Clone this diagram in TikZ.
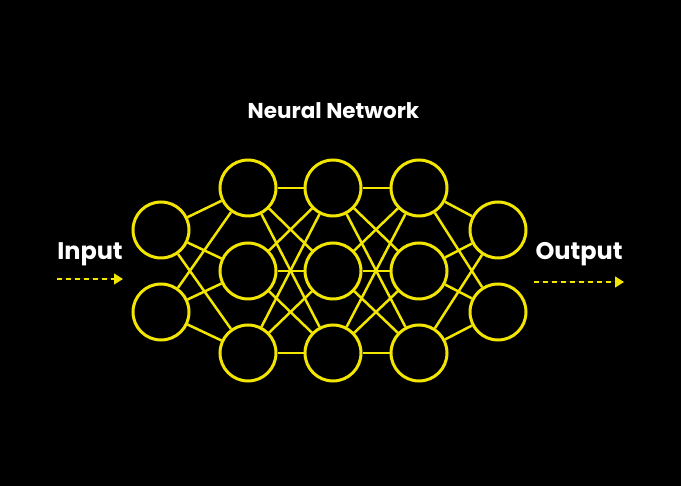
\documentclass[tikz,border=0pt]{standalone}
\usepackage{fontspec}
\setmainfont{Poppins}
\usetikzlibrary{arrows.meta}
\definecolor{nnYellow}{HTML}{F2E600}
\tikzset{
  neuron/.style={circle,draw=nnYellow,line width=3pt,minimum size=56pt,inner sep=0pt},
  link/.style={draw=nnYellow,line width=2.5pt},
  flow/.style={-{Triangle[length=9pt,width=11pt]},draw=nnYellow,fill=nnYellow,
    line width=1.5pt,dash pattern=on 5pt off 4pt},
  heading/.style={text=white,font=\fontsize{21.5}{24}\selectfont\bfseries,inner sep=0pt},
  sidelabel/.style={heading,font=\fontsize{24}{28}\selectfont\bfseries}
}
\begin{document}
\begin{tikzpicture}[x=1pt,y=-1pt]
  \fill[black] (0,0) rectangle (681,486);
  \useasboundingbox (0,0) rectangle (681,486);
  % layers
  \foreach \y [count=\i] in {230,312}
    \node[neuron] (in\i) at (161,\y) {};
  \foreach \x [count=\c] in {248,333,419}
    \foreach \y [count=\r] in {188,271,353}
      \node[neuron] (h\c\r) at (\x,\y) {};
  \foreach \y [count=\i] in {230,312}
    \node[neuron] (out\i) at (498,\y) {};
  % connections
  \foreach \i in {1,2}
    \foreach \r in {1,2,3} {
      \draw[link] (in\i) -- (h1\r);
      \draw[link] (h3\r) -- (out\i);
    }
  \foreach \r in {1,2,3}
    \foreach \s in {1,2,3} {
      \draw[link] (h1\r) -- (h2\s);
      \draw[link] (h2\r) -- (h3\s);
    }
  % labels
  \node[heading,anchor=base] (title) at (333.5,119) {Neural Network};
  \node[sidelabel,anchor=base] (input) at (90,260) {Input};
  \node[sidelabel,anchor=base] (output) at (579,260) {Output};
  \coordinate (inA) at (57,279);
  \coordinate (inB) at (123,279);
  \coordinate (outA) at (534,282);
  \coordinate (outB) at (624,282);
  \draw[flow] (inA) -- (inB);
  \draw[flow] (outA) -- (outB);
\end{tikzpicture}
\end{document}
